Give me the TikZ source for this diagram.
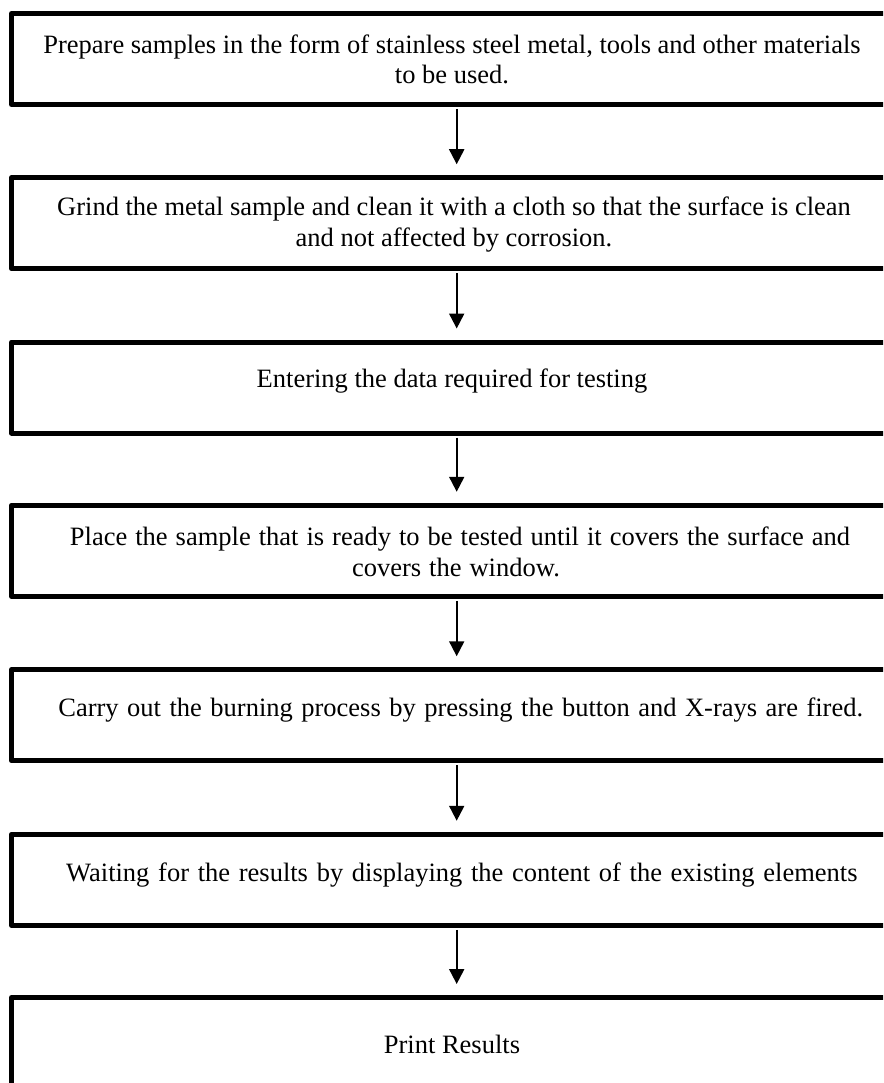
\documentclass[tikz,border=0pt]{standalone}
\usepackage{fontspec}
\setmainfont{Liberation Serif}
\usetikzlibrary{arrows.meta}
\newcommand{\stepfont}{\fontsize{26.5}{30.5}\selectfont}
\newcommand{\ws}[1][6.6pt]{\spaceskip=#1 plus 2pt minus 1pt\xspaceskip=#1\relax}
\begin{document}
\begin{tikzpicture}[x=1pt,y=-1pt,
  stepbox/.style={draw=black, line width=5pt, line join=round, rectangle, minimum width=887pt, minimum height=91pt, inner sep=0pt, outer sep=0pt},
  steptext/.style={anchor=base, text width=860pt, inner sep=0pt, font=\stepfont, execute at begin node=\centering},
  flow/.style={line width=2pt, -{Triangle[length=15pt,width=15pt]}}]
\clip (0,0) rectangle (883,1083);
\fill[white] (0,0) rectangle (883,1083);
% boxes
\node[stepbox] (b1) at (455,59) {};
\node[stepbox] (b2) at (455,223.25) {};
\node[stepbox] (b3) at (455,387.5) {};
\node[stepbox] (b4) at (455,550.75) {};
\node[stepbox] (b5) at (455,715.25) {};
\node[stepbox] (b6) at (455,879.75) {};
\node[stepbox, minimum height=120pt] (b7) at (455,1057.5) {};
% texts
\node[steptext] (t1) at (452,53.3) {\ws Prepare samples in the form of stainless steel metal, tools and other materials\\to be used.};
\node[steptext] (t2) at (454,216) {\ws Grind the metal sample and clean it with a cloth so that the surface is clean\\and not affected by corrosion.};
\node[steptext] (t3) at (452,387.3) {\ws Entering the data required for testing};
\node[steptext] (t4) at (456,545.7) {\ws[8pt] Place the sample that is ready to be tested until it covers the surface and\\covers the window.};
\node[steptext] (t5) at (456.5,716) {\ws[8.5pt] Carry out the burning process by pressing the button and X-rays are fired.};
\node[steptext] (t6) at (457.5,881) {\ws[8.7pt] Waiting for the results by displaying the content of the existing elements};
\node[steptext] (t7) at (452,1053) {\ws Print Results};
% arrows
\draw[flow] ([xshift=1.7pt,yshift=-4.5pt]b1.south) -- ([xshift=1.7pt,yshift=13.5pt]b2.north);
\draw[flow] ([xshift=1.7pt,yshift=-4.5pt]b2.south) -- ([xshift=1.7pt,yshift=13.5pt]b3.north);
\draw[flow] ([xshift=1.7pt,yshift=-4.5pt]b3.south) -- ([xshift=1.7pt,yshift=13.5pt]b4.north);
\draw[flow] ([xshift=1.7pt,yshift=-4.5pt]b4.south) -- ([xshift=1.7pt,yshift=13.5pt]b5.north);
\draw[flow] ([xshift=1.7pt,yshift=-4.5pt]b5.south) -- ([xshift=1.7pt,yshift=13.5pt]b6.north);
\draw[flow] ([xshift=1.7pt,yshift=-4.5pt]b6.south) -- ([xshift=1.7pt,yshift=13.5pt]b7.north);
\end{tikzpicture}
\end{document}
